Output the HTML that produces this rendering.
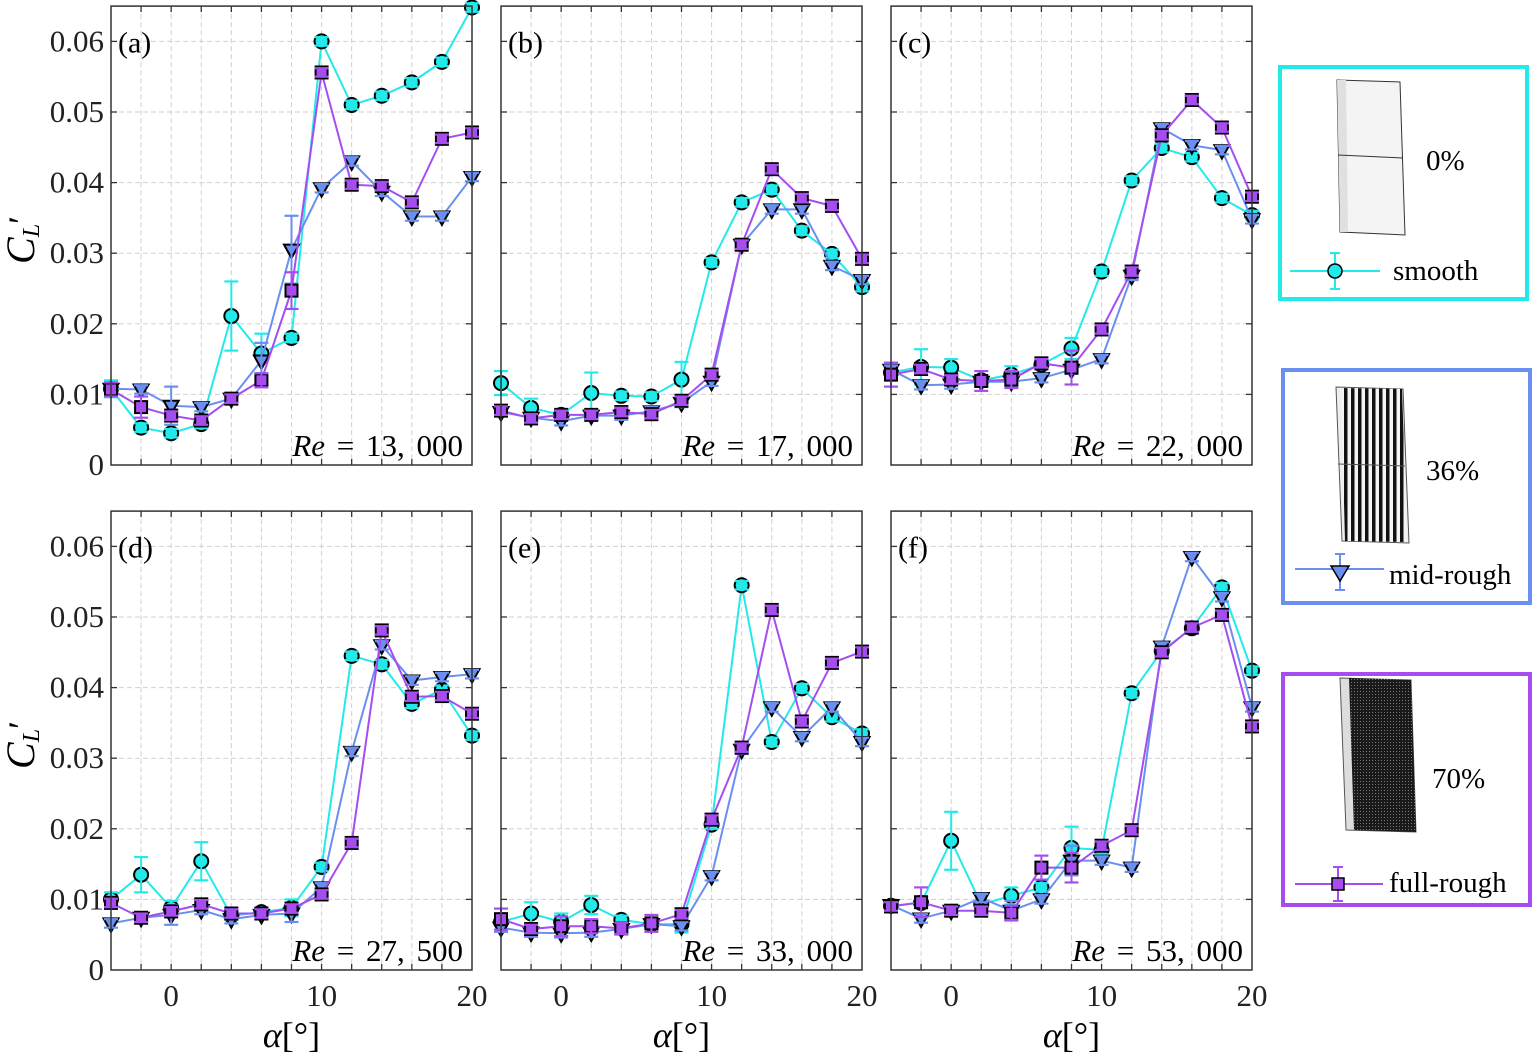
<!DOCTYPE html>
<html><head><meta charset="utf-8">
<style>
html,body{margin:0;padding:0;background:#fff;}
svg{display:block;font-family:"Liberation Serif",serif;}
</style></head>
<body>
<svg id="fig" width="1533" height="1056" viewBox="0 0 1533 1056" xmlns="http://www.w3.org/2000/svg" font-family="Liberation Serif, serif">
<g id="panels"></g>
<g id="legend">
  <g>
    <rect x="1280" y="67" width="247" height="232" fill="#fff" stroke="#22eaea" stroke-width="4"/>
    <polygon points="1337,80 1400,82 1405,235 1340,232" fill="#f4f4f4" stroke="#333" stroke-width="1"/>
    <polygon points="1337,80 1346,80 1348,232 1340,232" fill="#e0e0e0"/>
    <line x1="1338" y1="155" x2="1403" y2="158" stroke="#333" stroke-width="1"/>
    <text x="1426" y="170" font-size="29">0%</text>
    <line x1="1290" y1="271" x2="1380" y2="271" stroke="#22eaea" stroke-width="2"/>
    <line x1="1335" y1="253" x2="1335" y2="289" stroke="#22eaea" stroke-width="2"/>
    <line x1="1330" y1="253" x2="1340" y2="253" stroke="#22eaea" stroke-width="2"/>
    <line x1="1330" y1="289" x2="1340" y2="289" stroke="#22eaea" stroke-width="2"/>
    <circle cx="1335" cy="271" r="7" fill="#22eaea" stroke="#000" stroke-width="1.5"/>
    <text x="1393" y="280" font-size="29">smooth</text>
  </g>
  <g>
    <rect x="1283" y="370" width="247" height="233" fill="#fff" stroke="#6a8ff0" stroke-width="4"/>
    <defs>
      <pattern id="stripes" width="7" height="4" patternUnits="userSpaceOnUse">
        <rect width="7" height="4" fill="#f4f4f4"/>
        <rect x="0" width="3.5" height="4" fill="#111"/>
      </pattern>
      <pattern id="dots" width="3" height="3" patternUnits="userSpaceOnUse">
        <rect width="3" height="3" fill="#1a1a1a"/>
        <rect x="1" y="1" width="1" height="1" fill="#777"/>
      </pattern>
    </defs>
    <polygon points="1336,387 1403,389 1409,543 1342,541" fill="#eee" stroke="#555" stroke-width="1"/>
    <polygon points="1341,388 1402,389 1407,542 1345,541" fill="url(#stripes)"/>
    <line x1="1338" y1="464" x2="1405" y2="466" stroke="#555" stroke-width="1"/>
    <text x="1426" y="480" font-size="29">36%</text>
    <line x1="1295" y1="569" x2="1384" y2="569" stroke="#6a8ff0" stroke-width="2"/>
    <line x1="1340" y1="554" x2="1340" y2="590" stroke="#6a8ff0" stroke-width="2"/>
    <line x1="1335" y1="554" x2="1345" y2="554" stroke="#6a8ff0" stroke-width="2"/>
    <line x1="1335" y1="590" x2="1345" y2="590" stroke="#6a8ff0" stroke-width="2"/>
    <polygon points="1331,566 1349,566 1340,581" fill="#6a8ff0" stroke="#000" stroke-width="1.5"/>
    <text x="1389" y="584" font-size="29">mid-rough</text>
  </g>
  <g>
    <rect x="1283" y="674" width="247" height="231" fill="#fff" stroke="#a64df0" stroke-width="4"/>
    <polygon points="1340,678 1411,680 1416,832 1346,830" fill="#ddd" stroke="#555" stroke-width="1"/>
    <polygon points="1349,678 1411,680 1416,832 1354,830" fill="url(#dots)"/>
    <text x="1432" y="788" font-size="29">70%</text>
    <line x1="1295" y1="884" x2="1383" y2="884" stroke="#a64df0" stroke-width="2"/>
    <line x1="1338" y1="867" x2="1338" y2="901" stroke="#a64df0" stroke-width="2"/>
    <line x1="1333" y1="867" x2="1343" y2="867" stroke="#a64df0" stroke-width="2"/>
    <line x1="1333" y1="901" x2="1343" y2="901" stroke="#a64df0" stroke-width="2"/>
    <rect x="1332" y="878" width="12" height="12" fill="#a64df0" stroke="#000" stroke-width="1.5"/>
    <text x="1389" y="892" font-size="29">full-rough</text>
  </g>
</g>
</svg>
<script>
const alpha = [-4,-2,0,2,4,6,8,10,12,14,16,18,20];
const yTicks = [0,0.01,0.02,0.03,0.04,0.05,0.06];
const yTickLabels = ["0","0.01","0.02","0.03","0.04","0.05","0.06"];
const xTicks = [0,10,20];
const xTickLabels = ["0","10","20"];
const panelLetters = ["(a)","(b)","(c)","(d)","(e)","(f)"];
const reLabels = ["13, 000","17, 000","22, 000","27, 500","33, 000","53, 000"];

const smoothA = [0.0108,0.0053,0.0045,0.0058,0.0211,0.0158,0.0180,0.0600,0.0510,0.0523,0.0542,0.0571,0.0648];
const midA    = [0.0108,0.0107,0.0084,0.0082,0.0094,0.0148,0.0305,0.0392,0.0430,0.0387,0.0352,0.0352,0.0408];
const fullA   = [0.0107,0.0082,0.0070,0.0063,0.0094,0.0120,0.0247,0.0556,0.0397,0.0395,0.0372,0.0462,0.0471];

const smoothB = [0.0116,0.0081,0.0071,0.0102,0.0098,0.0097,0.0121,0.0287,0.0372,0.0390,0.0332,0.0299,0.0252];
const midB    = [0.0075,0.0067,0.0062,0.0070,0.0070,0.0076,0.0088,0.0118,0.0312,0.0362,0.0362,0.0282,0.0262];
const fullB   = [0.0077,0.0066,0.0071,0.0071,0.0075,0.0072,0.0091,0.0128,0.0312,0.0419,0.0378,0.0367,0.0292];

const smoothC = [0.0131,0.0139,0.0138,0.0120,0.0128,0.0142,0.0165,0.0274,0.0403,0.0449,0.0436,0.0378,0.0354];
const midC    = [0.0135,0.0113,0.0114,0.0118,0.0118,0.0123,0.0135,0.0150,0.0268,0.0477,0.0453,0.0446,0.0348];
const fullC   = [0.0128,0.0136,0.0121,0.0119,0.0121,0.0144,0.0138,0.0192,0.0274,0.0467,0.0517,0.0478,0.0380];

const smoothD = [0.0100,0.0135,0.0088,0.0154,0.0077,0.0082,0.0088,0.0146,0.0445,0.0433,0.0377,0.0397,0.0332];
const midD    = [0.0066,0.0074,0.0078,0.0085,0.0072,0.0078,0.0080,0.0117,0.0309,0.0460,0.0410,0.0415,0.0419];
const fullD   = [0.0095,0.0074,0.0083,0.0093,0.0080,0.0080,0.0087,0.0107,0.0180,0.0481,0.0387,0.0388,0.0363];

const smoothE = [0.0068,0.0080,0.0068,0.0092,0.0071,0.0065,0.0065,0.0206,0.0545,0.0323,0.0399,0.0358,0.0335];
const midE    = [0.0060,0.0053,0.0052,0.0053,0.0058,0.0065,0.0062,0.0133,0.0312,0.0372,0.0330,0.0372,0.0323];
const fullE   = [0.0072,0.0058,0.0062,0.0062,0.0059,0.0066,0.0079,0.0213,0.0315,0.0510,0.0352,0.0435,0.0451];

const smoothF = [0.0091,0.0095,0.0183,0.0093,0.0105,0.0117,0.0173,0.0170,0.0392,0.0452,0.0484,0.0542,0.0424];
const midF    = [0.0092,0.0073,0.0084,0.0102,0.0084,0.0100,0.0155,0.0155,0.0145,0.0458,0.0585,0.0528,0.0372];
const fullF   = [0.0090,0.0096,0.0084,0.0084,0.0081,0.0145,0.0145,0.0176,0.0198,0.0450,0.0485,0.0503,0.0345];

const errDefault = 0.0006;
const errSmoothA = [0.0012,0.0006,0.0006,0.0006,0.0049,0.0028,0.0006,0.0006,0.0006,0.0006,0.0006,0.0006,0.0006];
const errMidA    = [0.0008,0.0006,0.0027,0.0006,0.0006,0.0025,0.0048,0.0006,0.0006,0.0006,0.0006,0.0006,0.0006];
const errFullA   = [0.0010,0.0015,0.0006,0.0006,0.0006,0.0010,0.0026,0.0006,0.0006,0.0006,0.0006,0.0006,0.0006];
const errSmoothB = [0.0017,0.0013,0.0006,0.0029,0.0006,0.0006,0.0025,0.0006,0.0006,0.0006,0.0006,0.0006,0.0006];
const errSmoothC = [0.0010,0.0025,0.0012,0.0006,0.0012,0.0006,0.0015,0.0006,0.0006,0.0006,0.0006,0.0006,0.0006];
const errFullC   = [0.0017,0.0006,0.0006,0.0014,0.0012,0.0006,0.0024,0.0006,0.0006,0.0006,0.0006,0.0006,0.0006];
const errSmoothD = [0.0010,0.0025,0.0010,0.0027,0.0006,0.0006,0.0012,0.0006,0.0006,0.0006,0.0006,0.0006,0.0006];
const errMidD    = [0.0006,0.0006,0.0014,0.0006,0.0006,0.0006,0.0012,0.0006,0.0006,0.0006,0.0006,0.0006,0.0006];
const errSmoothE = [0.0012,0.0016,0.0012,0.0013,0.0006,0.0006,0.0012,0.0006,0.0006,0.0006,0.0006,0.0006,0.0006];
const errFullE   = [0.0015,0.0006,0.0014,0.0010,0.0008,0.0012,0.0006,0.0006,0.0006,0.0006,0.0006,0.0006,0.0006];
const errSmoothF = [0.0006,0.0006,0.0041,0.0006,0.0012,0.0006,0.0030,0.0006,0.0006,0.0006,0.0006,0.0006,0.0006];
const errMidF    = [0.0006,0.0006,0.0006,0.0006,0.0014,0.0006,0.0021,0.0006,0.0006,0.0006,0.0006,0.0006,0.0006];
const errFullF   = [0.0006,0.0021,0.0006,0.0006,0.0010,0.0017,0.0021,0.0006,0.0006,0.0006,0.0006,0.0006,0.0006];

const panelSmooth = [smoothA,smoothB,smoothC,smoothD,smoothE,smoothF];
const panelMid    = [midA,midB,midC,midD,midE,midF];
const panelFull   = [fullA,fullB,fullC,fullD,fullE,fullF];
const panelErrSmooth = [errSmoothA,errSmoothB,errSmoothC,errSmoothD,errSmoothE,errSmoothF];
const panelErrMid    = [errMidA,null,null,errMidD,null,errMidF];
const panelErrFull   = [errFullA,null,errFullC,null,errFullE,errFullF];

const NS = "http://www.w3.org/2000/svg";
const CYAN="#22eaea", BLUE="#6a8ff0", PURPLE="#a64df0";
const colX = [111,501,891];
const rowBase = [465,970];
const AX_W = 361;
const XMIN=-4, XMAX=20, YMAX=0.065;
const YSPAN = 0.01; const PX_PER = 70.6;

function mk(tag, attrs, parent){
  const e=document.createElementNS(NS,tag);
  for(const k in attrs) e.setAttribute(k,attrs[k]);
  parent.appendChild(e); return e;
}
const root=document.getElementById('panels');

for(let p=0;p<6;p++){
  const col=p%3, row=Math.floor(p/3);
  const x0=colX[col], yb=rowBase[row];
  const sx=v=>x0+(v-XMIN)/(XMAX-XMIN)*AX_W;
  const sy=v=>yb-v/YSPAN*PX_PER;
  const ytop=sy(YMAX);
  const g=mk('g',{},root);
  
  

  for(let a=-2;a<=18;a+=2){
    const l=mk('line',{x1:sx(a),x2:sx(a),y1:ytop,y2:yb,stroke:'#d0d0d0','stroke-width':1,'stroke-dasharray':'5,3'},g);
    
    
  }
  for(let i=1;i<yTicks.length;i++){
    const l=mk('line',{x1:x0,x2:x0+AX_W,y1:sy(yTicks[i]),y2:sy(yTicks[i]),stroke:'#d0d0d0','stroke-width':1,'stroke-dasharray':'5,3'},g);
    
    
  }
  for(let a=-2;a<=18;a+=2){
    mk('line',{x1:sx(a),x2:sx(a),y1:yb,y2:yb-6,stroke:'#333','stroke-width':1.3},g);
    mk('line',{x1:sx(a),x2:sx(a),y1:ytop,y2:ytop+6,stroke:'#333','stroke-width':1.3},g);
  }
  for(let i=1;i<yTicks.length;i++){
    mk('line',{x1:x0,x2:x0+6,y1:sy(yTicks[i]),y2:sy(yTicks[i]),stroke:'#333','stroke-width':1.3},g);
    mk('line',{x1:x0+AX_W,x2:x0+AX_W-6,y1:sy(yTicks[i]),y2:sy(yTicks[i]),stroke:'#333','stroke-width':1.3},g);
  }

  const series=[
    {d:panelSmooth[p],e:panelErrSmooth[p],c:CYAN,m:'circle',n:'smooth'},
    {d:panelMid[p],e:panelErrMid[p],c:BLUE,m:'tri',n:'mid-rough'},
    {d:panelFull[p],e:panelErrFull[p],c:PURPLE,m:'square',n:'full-rough'}
  ];
  for(const s of series){
    const sg=mk('g',{},g);
    
    
    const pts=alpha.map((a,i)=>sx(a)+','+sy(s.d[i])).join(' ');
    const pl=mk('polyline',{points:pts,fill:'none',stroke:s.c,'stroke-width':2},sg);
    
    
    alpha.forEach((a,i)=>{
      const e=s.e?s.e[i]:errDefault;
      const cx=sx(a), cy=sy(s.d[i]);
      const t=sy(s.d[i]+e), b=sy(s.d[i]-e);
      let mEl;
      if(s.m==='circle') mEl=mk('circle',{cx:cx,cy:cy,r:7,fill:s.c,stroke:'#000','stroke-width':2},sg);
      else if(s.m==='tri') mEl=mk('polygon',{points:`${cx-7.5},${cy-5} ${cx+7.5},${cy-5} ${cx},${cy+8.5}`,fill:s.c,stroke:'#000','stroke-width':2},sg);
      else mEl=mk('rect',{x:cx-6,y:cy-6,width:12,height:12,fill:s.c,stroke:'#000','stroke-width':2},sg);
      
      
      mk('line',{x1:cx,x2:cx,y1:t,y2:b,stroke:s.c,'stroke-width':2},sg);
      mk('line',{x1:cx-7,x2:cx+7,y1:t,y2:t,stroke:s.c,'stroke-width':2.2},sg);
      mk('line',{x1:cx-7,x2:cx+7,y1:b,y2:b,stroke:s.c,'stroke-width':2.2},sg);
    });
  }

  const fr=mk('rect',{x:x0,y:ytop,width:AX_W,height:yb-ytop,fill:'none',stroke:'#333','stroke-width':1.5},g);
  
  

  const lt=mk('text',{x:x0+7,y:sy(0.06)+11,'font-size':30},g);
  lt.textContent=panelLetters[p];
  
  

  const re=mk('text',{x:x0+AX_W-9,y:yb-9,'font-size':31,'text-anchor':'end','word-spacing':'4'},g);
  re.innerHTML='<tspan font-style="italic">Re</tspan> = '+reLabels[p];
  
  

  if(col===0){
    yTicks.forEach((v,i)=>{
      const t=mk('text',{x:104,y:sy(v)+10,'font-size':31,'text-anchor':'end',fill:'#222'},root);
      t.textContent=yTickLabels[i];
      
      
    });
    const yt=mk('text',{x:0,y:0,'font-size':40,'font-style':'italic',transform:`translate(34,${yb-225}) rotate(-90)`,'text-anchor':'middle'},root);
    yt.innerHTML='C<tspan font-size="24" dy="5">L</tspan><tspan dy="-6" font-style="normal" font-size="36">′</tspan>';
    
    
  }
  if(row===1){
    xTicks.forEach((v,i)=>{
      const t=mk('text',{x:sx(v),y:1006,'font-size':31,'text-anchor':'middle',fill:'#222'},root);
      t.textContent=xTickLabels[i];
      
      
    });
    const xt=mk('text',{x:x0+AX_W/2,y:1047,'font-size':36,'text-anchor':'middle'},root);
    xt.innerHTML='<tspan font-style="italic">α</tspan>[°]';
    
    
  }
}
</script>
</body></html>
